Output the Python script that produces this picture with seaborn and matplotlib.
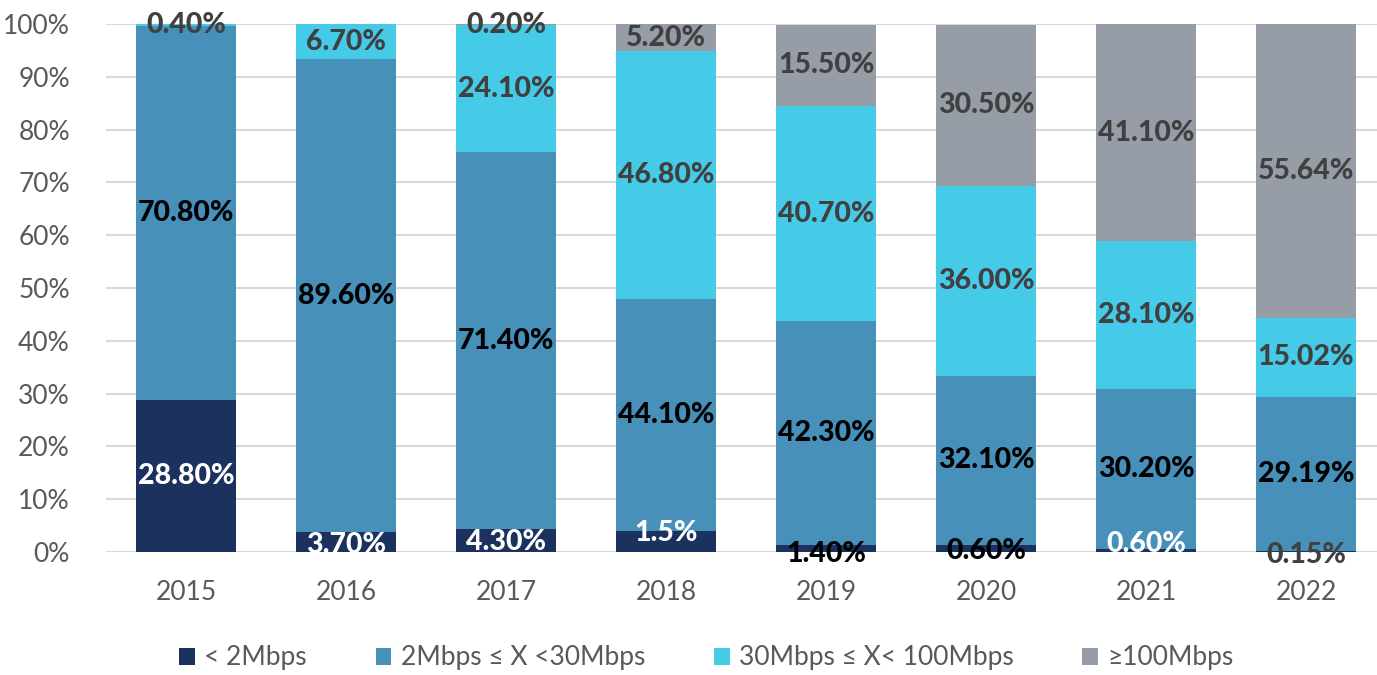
import numpy as np
import matplotlib
matplotlib.use("Agg")
import matplotlib.pyplot as plt
import seaborn as sns
from matplotlib.patches import Patch

years = ["2015", "2016", "2017", "2018", "2019", "2020", "2021", "2022"]
series_names = ["< 2Mbps", "2Mbps \u2264 X <30Mbps", "30Mbps \u2264 X< 100Mbps", "\u2265100Mbps"]
# segment heights as drawn
v_lt2 = [28.8, 3.7, 4.3, 3.9, 1.4, 1.3, 0.6, 0.15]
v_2_30 = [70.8, 89.6, 71.4, 44.1, 42.3, 32.1, 30.2, 29.19]
v_30_100 = [0.4, 6.7, 24.1, 46.8, 40.7, 36.0, 28.1, 15.02]
v_ge100 = [0.0, 0.0, 0.2, 5.2, 15.5, 30.5, 41.1, 55.64]
# labels as printed
l_lt2 = ["28.80%", "3.70%", "4.30%", "1.5%", "1.40%", "0.60%", "0.60%", "0.15%"]
l_2_30 = ["70.80%", "89.60%", "71.40%", "44.10%", "42.30%", "32.10%", "30.20%", "29.19%"]
l_30_100 = ["0.40%", "6.70%", "24.10%", "46.80%", "40.70%", "36.00%", "28.10%", "15.02%"]
l_ge100 = ["", "", "0.20%", "5.20%", "15.50%", "30.50%", "41.10%", "55.64%"]

colors = ["#1c325e", "#4690ba", "#45cae8", "#969da6"]

sns.set_style("white")
plt.rcParams["font.family"] = ["Lato", "DejaVu Sans"]

fig = plt.figure(figsize=(13.77, 6.75), dpi=100)
ax = fig.add_axes([106 / 1377, 1 - 552 / 675, 1 - 106 / 1377, (552 - 24) / 675])

layers = [v_lt2, v_2_30, v_30_100, v_ge100]
cums = np.cumsum(np.array(layers), axis=0)

for i in range(3, -1, -1):
    sns.barplot(x=years, y=cums[i], color=colors[i], width=0.62, saturation=1,
                ax=ax, zorder=3, linewidth=0)

ax.set_xlim(-0.5, -0.5 + 1271 / 160)
ax.set_ylim(0, 100)
ax.set_yticks(np.arange(0, 101, 10))
ax.set_yticklabels([f"{t}%" for t in range(0, 101, 10)])
ax.yaxis.grid(True, color="#d9d9d9", linewidth=1.5, zorder=0)
ax.set_axisbelow(True)
for s in ax.spines.values():
    s.set_visible(False)
ax.tick_params(axis="both", length=0, labelsize=19, colors="#595959")
ax.tick_params(axis="y", pad=26)
ax.tick_params(axis="x", pad=20)
ax.set_xlabel("")
ax.set_ylabel("")

label_sets = [l_lt2, l_2_30, l_30_100, l_ge100]
text_colors = [
    ["white", "white", "white", "white", "black", "black", "white", "#404040"],
    ["black"] * 8,
    ["#404040"] * 8,
    ["#404040"] * 8,
]
# manual y placement for tiny segments (layer, year index) -> y
special_y = {
    (0, 1): 1.3, (0, 2): 1.9, (0, 3): 3.6, (0, 4): -0.4, (0, 5): 0.1,
    (0, 6): 1.5, (0, 7): -0.5, (2, 0): 99.9, (3, 2): 99.9,
}
for li in range(4):
    for yi in range(8):
        txt = label_sets[li][yi]
        if not txt:
            continue
        bottom = cums[li - 1][yi] if li > 0 else 0
        yc = special_y.get((li, yi), bottom + layers[li][yi] / 2)
        ax.text(yi, yc, txt, ha="center", va="center", fontsize=20.5,
                fontweight=900, color=text_colors[li][yi], zorder=5)

handles = [Patch(facecolor=c, edgecolor="none") for c in colors]
fig.legend(handles, series_names, loc="center", bbox_to_anchor=(0.513, 1 - 658 / 675),
           ncol=4, frameon=False, fontsize=19, labelcolor="#595959",
           handlelength=0.6, handleheight=0.6, handletextpad=0.35, columnspacing=2.6)

fig.savefig("out.png", dpi=100)
